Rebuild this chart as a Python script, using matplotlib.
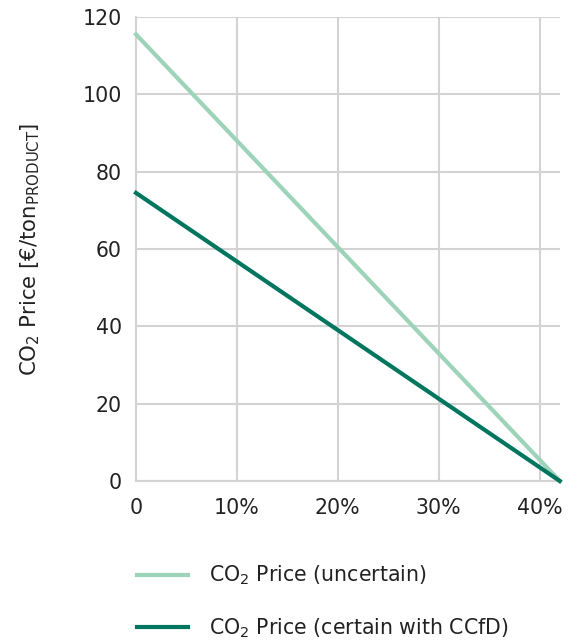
import matplotlib
matplotlib.use("Agg")
from matplotlib import pyplot as plt

plt.rcParams['font.family'] = ['DejaVu Sans']
plt.rcParams['mathtext.fontset'] = 'dejavusans'

# share of abatement vs CO2 price
share = [0.0, 0.42]
price_uncertain = [115.5, 0.0]
price_ccfd = [74.5, 0.0]
x_ticks = [0.0, 0.1, 0.2, 0.3, 0.4]
x_labels = ["0", "10%", "20%", "30%", "40%"]
y_ticks = [0, 20, 40, 60, 80, 100, 120]

light = "#9dd3b9"
dark = "#00765f"
grid = "#d3d3d3"
text = "#222222"

fig = plt.figure(figsize=(5.7, 6.43), dpi=100)
ax = fig.add_axes([0.2386, 0.252, 0.7434, 0.7216])

l1, = ax.plot(share, price_uncertain, color=light, lw=3, clip_on=False, zorder=3,
              label=r"CO$_{\mathrm{2}}$ Price (uncertain)")
l2, = ax.plot(share, price_ccfd, color=dark, lw=3, clip_on=False, zorder=4,
              label=r"CO$_{\mathrm{2}}$ Price (certain with CCfD)")

ax.set_xlim(0, 0.42)
ax.set_ylim(0, 120)
ax.set_xticks(x_ticks)
ax.set_xticklabels(x_labels)
ax.set_yticks(y_ticks)
ax.tick_params(length=0, labelsize=14.8, colors=text, pad=12)
ax.tick_params(axis='y', pad=10)
ax.grid(True, color=grid, lw=1.5)
ax.set_axisbelow(True)
for s in ["top", "right"]:
    ax.spines[s].set_visible(False)
for s in ["left", "bottom"]:
    ax.spines[s].set_color(grid)
    ax.spines[s].set_linewidth(1.5)

ax.set_ylabel(r"CO$_{\mathrm{2}}$ Price [€/ton$_{\mathrm{PRODUCT}}$]", fontsize=15.3,
              color=text)
ax.yaxis.set_label_coords(-0.222, 0.5)

fig.legend(handles=[l1, l2], loc="upper left", bbox_to_anchor=(0.208, 0.152),
           frameon=False, fontsize=14.8, handlelength=2.5, handletextpad=1.0,
           labelspacing=1.4, labelcolor=text)

plt.savefig("out.png", dpi=100)
plt.close()
